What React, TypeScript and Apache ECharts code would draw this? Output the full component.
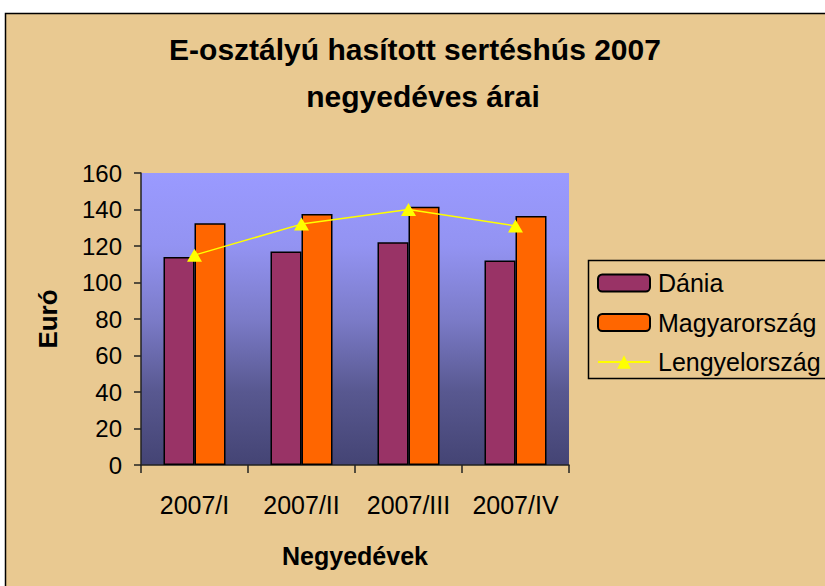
import React, { useEffect, useRef } from "react";
import * as echarts from "echarts";

const categories = ["2007/I", "2007/II", "2007/III", "2007/IV"];
const dania = [114, 117, 122, 112];
const magyarorszag = [132.5, 137.5, 141.5, 136.5];
const lengyelorszag = [115, 132, 140, 131];
const titleLine1 = "E-osztályú hasított sertéshús 2007";
const titleLine2 = "negyedéves árai";

const FONT = "'Liberation Sans', Arial, sans-serif";
const BG = "#E9C991";

export default function App() {
  const ref = useRef<HTMLDivElement>(null);
  useEffect(() => {
    if (!ref.current) return;
    const chart = echarts.init(ref.current, undefined, { renderer: "svg" });
    chart.setOption({
      animation: false,
      backgroundColor: "#ffffff",
      textStyle: { fontFamily: FONT },
      graphic: [
        {
          type: "rect",
          z: -10,
          silent: true,
          shape: { x: 5.5, y: 13.5, width: 830, height: 590 },
          style: { fill: BG, stroke: "#000", lineWidth: 1.5 },
        },
        {
          type: "rect",
          z: -5,
          silent: true,
          shape: { x: 588.5, y: 260.5, width: 250, height: 118 },
          style: { fill: "transparent", stroke: "#000", lineWidth: 1.5 },
        },
      ],
      title: [
        {
          text: titleLine1,
          left: 415,
          top: 34,
          padding: 0,
          textAlign: "center",
          textStyle: { fontFamily: FONT, fontSize: 30, fontWeight: "bold", color: "#000" },
        },
        {
          text: titleLine2,
          left: 423,
          top: 81,
          padding: 0,
          textAlign: "center",
          textStyle: { fontFamily: FONT, fontSize: 30, fontWeight: "bold", color: "#000" },
        },
      ],
      legend: {
        orient: "vertical",
        left: 597,
        top: 270.5,
        padding: 0,
        itemWidth: 52,
        itemHeight: 17,
        itemGap: 14.5,
        data: ["Dánia", "Magyarország", "Lengyelország"],
        textStyle: {
          fontFamily: FONT,
          fontSize: 25,
          color: "#000",
          padding: [0, 0, 0, 3],
        },
      },
      grid: {
        left: 141,
        right: 256,
        top: 173,
        bottom: 121,
        show: true,
        borderWidth: 0,
        backgroundColor: new echarts.graphic.LinearGradient(0, 0, 0, 1, [
          { offset: 0, color: "#9A9AFF" },
          { offset: 0.25, color: "#9393F2" },
          { offset: 0.5, color: "#7B7BC8" },
          { offset: 0.75, color: "#585890" },
          { offset: 1, color: "#444474" },
        ]),
      },
      xAxis: {
        type: "category",
        data: categories,
        name: "Negyedévek",
        nameLocation: "middle",
        nameGap: 78,
        nameTextStyle: { fontFamily: FONT, fontSize: 25, fontWeight: "bold", color: "#000" },
        axisLine: { lineStyle: { color: "#222", width: 1.5 } },
        axisTick: { show: true, length: 8, lineStyle: { color: "#222", width: 1.5 } },
        axisLabel: { fontFamily: FONT, fontSize: 25, color: "#000", margin: 27, interval: 0 },
      },
      yAxis: {
        type: "value",
        min: 0,
        max: 160,
        interval: 20,
        name: "Euró",
        nameLocation: "middle",
        nameGap: 80,
        nameRotate: 90,
        nameTextStyle: { fontFamily: FONT, fontSize: 26, fontWeight: "bold", color: "#000" },
        axisLine: { show: true, lineStyle: { color: "#222", width: 1.5 } },
        axisTick: { show: true, length: 7, lineStyle: { color: "#222", width: 1.5 } },
        axisLabel: { fontFamily: FONT, fontSize: 24, color: "#000", margin: 19 },
        splitLine: { show: false },
      },
      series: [
        {
          name: "Dánia",
          type: "bar",
          data: dania,
          barWidth: 31,
          barGap: "0%",
          itemStyle: { color: "#993366", borderColor: "#000", borderWidth: 1.5 },
        },
        {
          name: "Magyarország",
          type: "bar",
          data: magyarorszag,
          barWidth: 31,
          barGap: "0%",
          itemStyle: { color: "#FF6600", borderColor: "#000", borderWidth: 1.5 },
        },
        {
          name: "Lengyelország",
          type: "line",
          data: lengyelorszag,
          symbol: "triangle",
          symbolSize: [15, 13],
          z: 5,
          lineStyle: { color: "#FFFF00", width: 1.5 },
          itemStyle: { color: "#FFFF00" },
        },
      ],
    });
    return () => chart.dispose();
  }, []);
  return (
    <div
      ref={ref}
      style={{ position: "fixed", left: 0, top: 0, width: 825, height: 586 }}
    />
  );
}
